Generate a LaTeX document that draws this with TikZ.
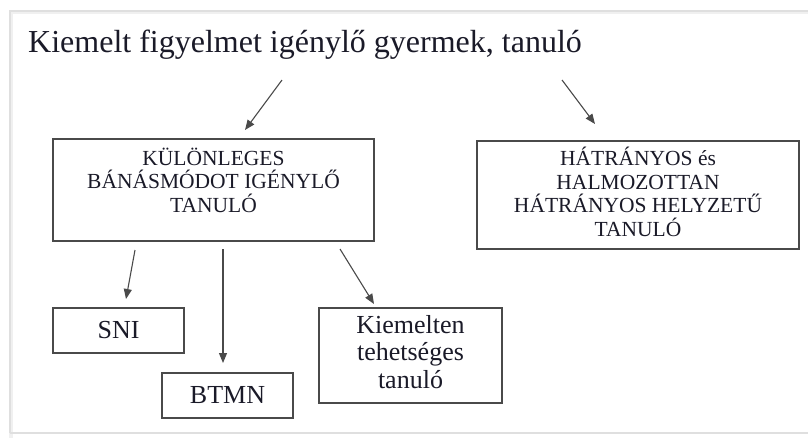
\documentclass[tikz,border=0pt]{standalone}
\usepackage{fontspec}
\setmainfont{Liberation Serif}
\usetikzlibrary{arrows.meta}
\definecolor{ink}{HTML}{1A1A28}
\definecolor{edge}{HTML}{4A4A4A}
\tikzset{
  box/.style={draw=edge, line width=1.3pt, inner sep=0pt},
  toptxt/.style={text=ink, inner sep=0pt, align=center, font=\fontsize{21.5}{23.5}\selectfont},
  lowtxt/.style={text=ink, inner sep=0pt, align=center, font=\fontsize{26}{27.5}\selectfont},
  arr/.style={draw=edge, line width=1.1pt, -{Triangle[length=10pt,width=8pt]}},
}
\begin{document}
\begin{tikzpicture}[x=1pt,y=-1pt]
\useasboundingbox (0,0) rectangle (808,437);
\fill[white] (0,0) rectangle (808,437);
% frame with soft shadow
\draw[gray!12, line width=4pt] (11,820) -- (11,12) -- (820,12);
\draw[gray!25, line width=1.5pt] (10,433) -- (10,11) -- (820,11);
\draw[gray!25, line width=1.5pt] (10,433) -- (820,433);
% title
\node[text=ink, inner sep=0pt, anchor=base west, font=\fontsize{32}{36}\selectfont] (title) at (28,52) {Kiemelt figyelmet igénylő gyermek, tanuló};
% boxes
\node[box, minimum width=321pt, minimum height=102pt] (kul) at (213.5,190) {};
\node[toptxt, anchor=base] (kult) at (213.5,212) {KÜLÖNLEGES\\BÁNÁSMÓDOT IGÉNYLŐ\\TANULÓ};
\node[box, minimum width=322pt, minimum height=108pt] (hat) at (638,195) {};
\node[toptxt, anchor=base] (hatt) at (638,236) {HÁTRÁNYOS és\\HALMOZOTTAN\\HÁTRÁNYOS HELYZETŰ\\TANULÓ};
\node[box, minimum width=131pt, minimum height=45pt] (sni) at (118.5,330.5) {};
\node[lowtxt, anchor=base] (snit) at (118.5,338) {SNI};
\node[box, minimum width=131pt, minimum height=45pt] (btmn) at (227.5,395.5) {};
\node[lowtxt, anchor=base] (btmnt) at (227.5,403) {BTMN};
\node[box, minimum width=183pt, minimum height=95pt] (kt) at (410.5,355.5) {};
\node[lowtxt, anchor=base] (ktt) at (410.5,388) {Kiemelten\\tehetséges\\tanuló};
% arrow end points
\coordinate (a1s) at (282,80);  \coordinate (a1e) at (245,130);
\coordinate (a2s) at (562,80);  \coordinate (a2e) at (595,124);
\coordinate (b1s) at (135,250); \coordinate (b1e) at (126,299);
\coordinate (b2s) at (223,249); \coordinate (b2e) at (223,363);
\coordinate (b3s) at (340,249); \coordinate (b3e) at (374,304);
\draw[arr] (a1s) -- (a1e);
\draw[arr] (a2s) -- (a2e);
\draw[arr] (b1s) -- (b1e);
\draw[arr] (b2s) -- (b2e);
\draw[arr] (b3s) -- (b3e);
\end{tikzpicture}
\end{document}
